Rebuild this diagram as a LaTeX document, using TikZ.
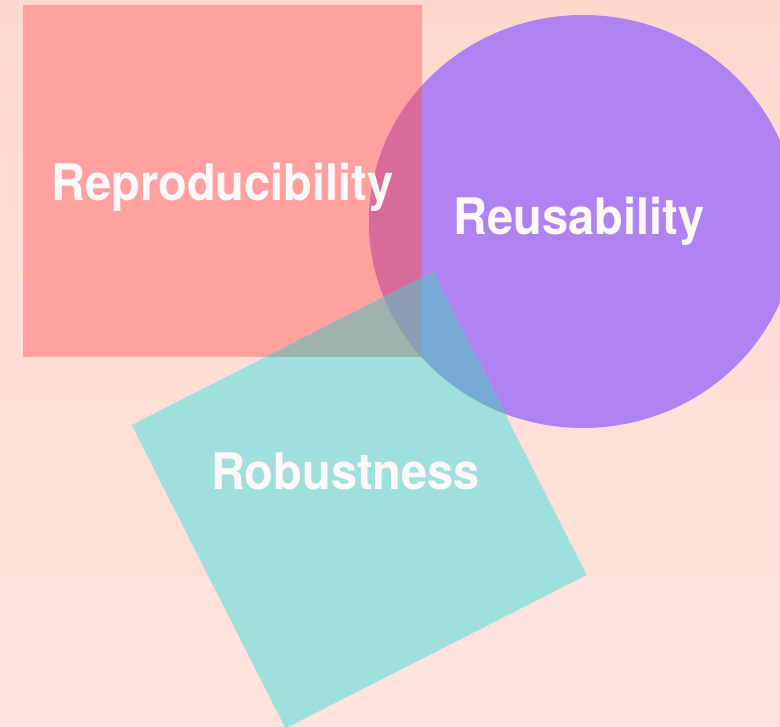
\documentclass[tikz,border=0pt]{standalone}
\usepackage{fontspec}
\setmainfont{TeX Gyre Heros}
\definecolor{bgtop}{HTML}{FFD8CD}
\definecolor{bgbot}{HTML}{FFE4DE}
\definecolor{redc}{HTML}{FFA29F}
\definecolor{purc}{HTML}{AF82F1}
\definecolor{tealc}{HTML}{A0E0DC}
\definecolor{redpur}{HTML}{D96B9A}
\definecolor{redteal}{HTML}{9CB4AB}
\definecolor{purteal}{HTML}{78A9D4}
\definecolor{allthree}{HTML}{8C9DB4}
\definecolor{txtc}{HTML}{FFF8F8}
\begin{document}
\begin{tikzpicture}[x=1pt,y=1pt,
  lbl/.style={anchor=base,inner sep=0pt,text=txtc,transform shape,yscale=1.07,font=\fontsize{47}{50}\selectfont\bfseries}]
\path[use as bounding box] (0,0) rectangle (780,727);
\shade[top color=bgtop,bottom color=bgbot] (0,0) rectangle (780,727);
\def\rectpath{(22.5,722) rectangle (421.5,370)}
\def\ellpath{(583,505.5) ellipse [x radius=214, y radius=206.5]}
\def\sqpath{(131.7,302) -- (433,455.3) -- (586.7,152) -- (285.4,-1.3) -- cycle}
% base shapes
\fill[redc] \rectpath;
\fill[purc] \ellpath;
\fill[tealc] \sqpath;
% overlaps
\begin{scope}
  \clip \rectpath;
  \fill[redpur] \ellpath;
  \fill[redteal] \sqpath;
\end{scope}
\begin{scope}
  \clip \ellpath;
  \fill[purteal] \sqpath;
\end{scope}
\begin{scope}
  \clip \rectpath;
  \clip \ellpath;
  \fill[allthree] \sqpath;
\end{scope}
% labels
\node[lbl] (repro) at (222.5,526) {Reproducibility};
\node[lbl] (reuse) at (579,492) {Reusability};
\node[lbl] (robust) at (345.5,237) {Robustness};
\end{tikzpicture}
\end{document}
